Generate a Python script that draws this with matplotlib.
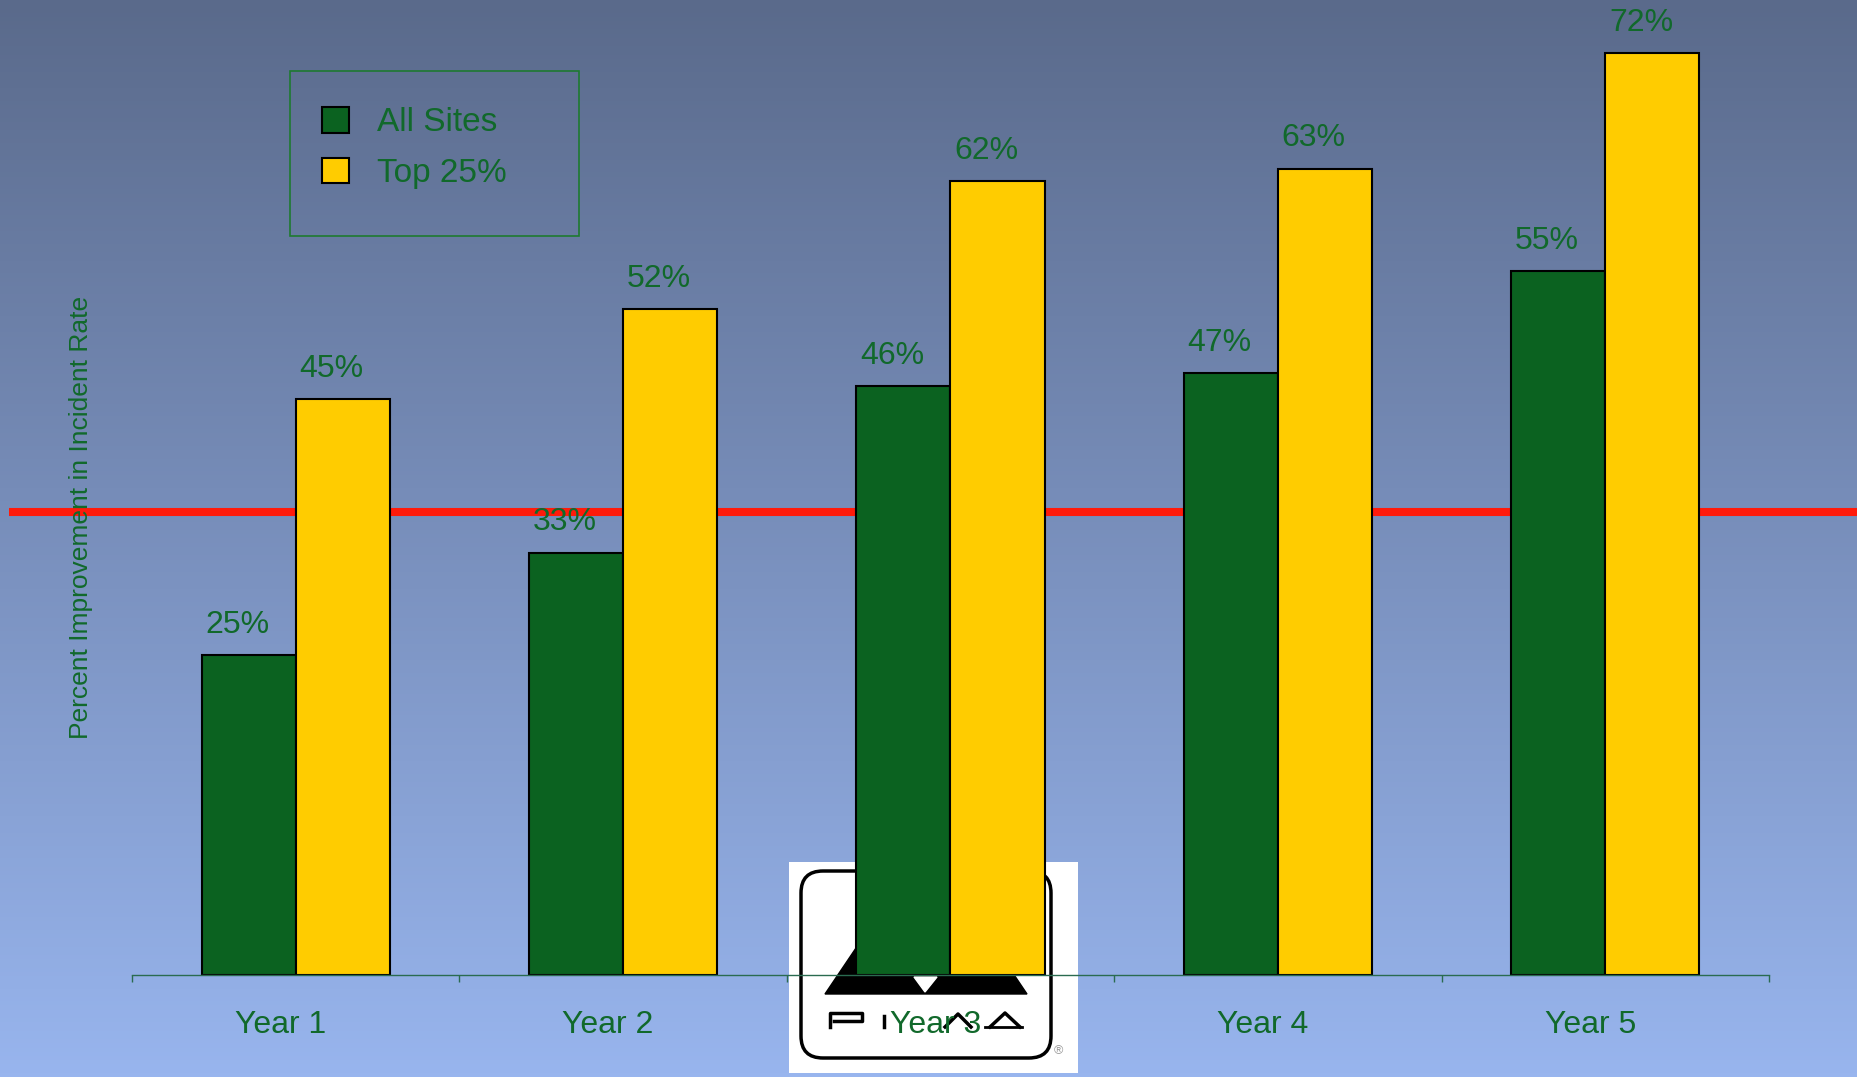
import matplotlib
import matplotlib.pyplot as plt
from matplotlib.colors import LinearSegmentedColormap
from matplotlib.patches import Rectangle, FancyBboxPatch, Polygon
from matplotlib.transforms import ScaledTranslation
import numpy as np

matplotlib.use("Agg")
plt.rcParams["font.family"] = ["Liberation Sans", "DejaVu Sans"]

# data
categories = ["Year 1", "Year 2", "Year 3", "Year 4", "Year 5"]
all_sites = [25, 33, 46, 47, 55]
top_25 = [45, 52, 62, 63, 72]
series_names = ["All Sites", "Top 25%"]
target_rate = 36.2

# look
W, H, DPI = 1858, 1077, 100
CAT_PX = 327.4          # width of one category on the axis
AXIS_LEFT_PX = 132      # where the x axis starts
BASE_PX = 975           # baseline, from the top
PX_PER_UNIT = 12.8
BAR_W = 94 / CAT_PX
TEXT_GREEN = "#11692B"
BAR_GREEN = "#0B6220"
BAR_YELLOW = "#FFCC00"
AXIS_COLOR = "#2A6B50"

fig = plt.figure(figsize=(W / DPI, H / DPI), dpi=DPI)

# background gradient + logo, drawn in pixel units
bg = fig.add_axes([0, 0, 1, 1], zorder=0)
cmap = LinearSegmentedColormap.from_list("bg", ["#5A6A8B", "#98B5EE"])
bg.imshow(np.linspace(0, 1, 256).reshape(-1, 1), cmap=cmap, aspect="auto",
          extent=(0, W, H, 0))
bg.set_xlim(0, W)
bg.set_ylim(H, 0)
bg.axis("off")

bg.add_patch(Rectangle((789, 862), 289, 211, facecolor="white", edgecolor="none"))
bg.add_patch(FancyBboxPatch((801, 871), 250, 187, boxstyle="round,pad=0,rounding_size=22",
                            facecolor="none", edgecolor="black", lw=2.5))
bg.add_patch(Polygon([(825, 994), (1027, 994), (967, 905), (885, 905)], color="black"))
bg.add_patch(Polygon([(914, 977), (937, 977), (925, 992)], color="white"))
bg.plot([830, 830, 862, 862, 834], [1027, 1013, 1013, 1021, 1021], color="black", lw=2.5)
bg.plot([884, 884], [1016, 1027], color="black", lw=2.5)
bg.plot([945, 958, 971], [1027, 1014, 1027], color="black", lw=2.5)
bg.plot([990, 1005, 1020], [1027, 1013, 1027], color="black", lw=2.5)
bg.plot([985, 1022], [1027, 1027], color="black", lw=2)
bg.text(1058, 1051, "®", fontsize=9, color="#999999", ha="center", va="center")

# legend frame
bg.add_patch(Rectangle((290, 71), 289, 165, fill=False, edgecolor="#1E7A30", lw=1.2))

# main chart
ax = fig.add_axes([0, (H - BASE_PX) / H, 1, BASE_PX / H], zorder=2)
ax.patch.set_visible(False)
x = np.arange(len(categories))
ax.set_xlim(-0.5 - AXIS_LEFT_PX / CAT_PX, -0.5 + (W - AXIS_LEFT_PX) / CAT_PX)
ax.set_ylim(0, BASE_PX / PX_PER_UNIT)

ax.axhline(target_rate, xmin=9 / W, xmax=1, color="#FF1A0A", lw=5.8,
           solid_capstyle="butt", zorder=1)

b1 = ax.bar(x - BAR_W / 2, all_sites, BAR_W, color=BAR_GREEN, edgecolor="black",
            linewidth=1.5, zorder=3)
b2 = ax.bar(x + BAR_W / 2, top_25, BAR_W, color=BAR_YELLOW, edgecolor="black",
            linewidth=1.5, zorder=3)

for xs, vals in [(x - BAR_W / 2, all_sites), (x + BAR_W / 2, top_25)]:
    for xi, v in zip(xs, vals):
        ax.annotate(f"{v}%", (xi, v), xytext=(-8, 16), textcoords="offset points",
                    ha="center", va="baseline", fontsize=23, color=TEXT_GREEN, zorder=5)

for s in ["top", "left", "right"]:
    ax.spines[s].set_visible(False)
ax.spines["bottom"].set_bounds(-0.5, len(categories) - 0.5)
ax.spines["bottom"].set_color(AXIS_COLOR)
ax.spines["bottom"].set_linewidth(1)
ax.spines["bottom"].set_zorder(4)

ax.set_yticks([])
ax.set_xticks(np.arange(len(categories) + 1) - 0.5)
ax.set_xticklabels([])
ax.tick_params(axis="x", which="major", length=5, width=1, color=AXIS_COLOR, direction="out")
ax.set_xticks(x, minor=True)
ax.set_xticklabels(categories, minor=True, fontsize=23, color=TEXT_GREEN)
ax.tick_params(axis="x", which="minor", length=0, pad=25.5)
shift = ScaledTranslation(-15 / DPI, 0, fig.dpi_scale_trans)
for lbl in ax.get_xticklabels(minor=True):
    lbl.set_transform(lbl.get_transform() + shift)

ax.legend([b1, b2], series_names, loc="upper left",
          bbox_to_anchor=(322 / W, 1 - 107 / H), bbox_transform=fig.transFigure,
          frameon=False, borderpad=0, borderaxespad=0, handlelength=0.81,
          handleheight=0.81, handletextpad=0.84, labelspacing=0.58,
          fontsize=24, labelcolor=TEXT_GREEN)

fig.text(81 / W, 1 - 517 / H, "Percent Improvement in Incident Rate", rotation=90,
         ha="center", va="center", fontsize=19, color=TEXT_GREEN, zorder=5)

fig.savefig("out.png", dpi=DPI)
plt.close()
